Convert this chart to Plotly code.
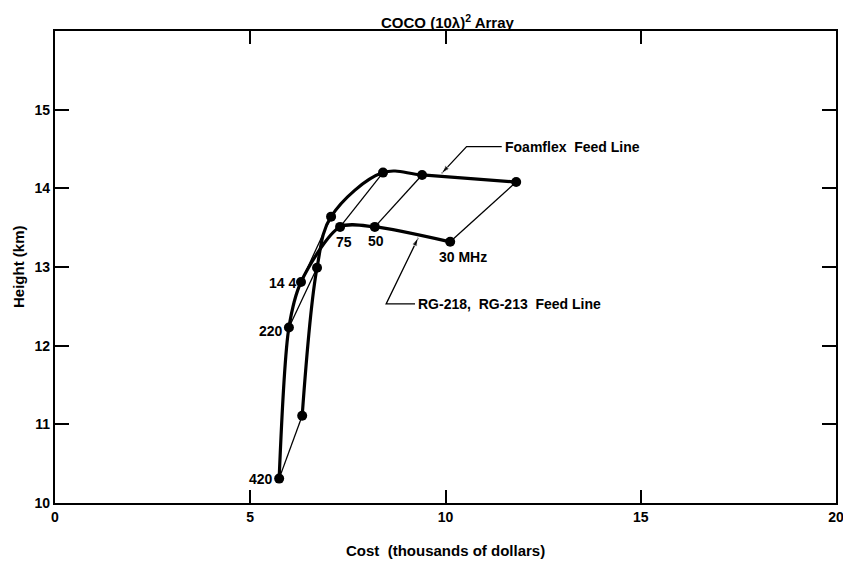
import plotly.graph_objects as go

# ---- data ----
freq_labels = ["420", "220", "144", "75", "50", "30"]
rg_cost = [5.74, 5.99, 6.30, 7.30, 8.19, 10.12]
rg_height = [10.31, 12.23, 12.81, 13.51, 13.51, 13.32]
ff_cost = [6.33, 6.71, 7.07, 8.40, 9.40, 11.81]
ff_height = [11.11, 12.99, 13.64, 14.20, 14.17, 14.08]
x_ticks = [0, 5, 10, 15, 20]
y_ticks = [10, 11, 12, 13, 14, 15]

FONT = "Liberation Sans"
fig = go.Figure()

# thin lines connecting same-frequency points
for i in range(len(freq_labels)):
    fig.add_trace(go.Scatter(x=[rg_cost[i], ff_cost[i]], y=[rg_height[i], ff_height[i]],
                             mode="lines", line=dict(color="black", width=1.3),
                             showlegend=False, hoverinfo="skip"))

# thick curves
fig.add_trace(go.Scatter(x=rg_cost, y=rg_height, mode="lines+markers",
                         line=dict(color="black", width=3.2, shape="spline", smoothing=0.8),
                         marker=dict(color="black", size=10), name="RG-218, RG-213 Feed Line",
                         showlegend=False))
fig.add_trace(go.Scatter(x=ff_cost, y=ff_height, mode="lines+markers",
                         line=dict(color="black", width=3.2, shape="spline", smoothing=1.0),
                         marker=dict(color="black", size=10), name="Foamflex Feed Line",
                         showlegend=False))

lbl_font = dict(family=FONT, size=14, color="black", weight="bold")

# frequency labels
fig.add_annotation(x=rg_cost[0], y=rg_height[0], text=freq_labels[0], showarrow=False,
                   xanchor="right", xshift=-4, font=lbl_font)
fig.add_annotation(x=rg_cost[1], y=rg_height[1], text=freq_labels[1], showarrow=False,
                   xanchor="right", xshift=-4, yshift=-3, font=lbl_font)
fig.add_annotation(x=rg_cost[2], y=rg_height[2], text="14 4", showarrow=False,
                   xanchor="right", xshift=-3, yshift=-1, font=lbl_font)
fig.add_annotation(x=rg_cost[3], y=rg_height[3], text=freq_labels[3], showarrow=False,
                   xshift=4, yshift=-15, font=lbl_font)
fig.add_annotation(x=rg_cost[4], y=rg_height[4], text=freq_labels[4], showarrow=False,
                   xshift=1, yshift=-14, font=lbl_font)
fig.add_annotation(x=rg_cost[5], y=rg_height[5], text=freq_labels[5] + " MHz", showarrow=False,
                   xshift=13, yshift=-15, font=lbl_font)

# leader lines (with arrowheads) and series labels
ff_tip, ff_bend, ff_txt = (9.90, 14.19), (10.54, 14.53), (11.44, 14.53)
rg_tip, rg_bend, rg_txt = (9.30, 13.37), (8.48, 12.53), (9.22, 12.53)
for tip, bend, txt, label in [(ff_tip, ff_bend, ff_txt, "Foamflex  Feed Line"),
                              (rg_tip, rg_bend, rg_txt, "RG-218,  RG-213  Feed Line")]:
    fig.add_trace(go.Scatter(x=[txt[0], bend[0], tip[0]], y=[txt[1], bend[1], tip[1]],
                             mode="lines+markers", line=dict(color="black", width=1.3),
                             marker=dict(symbol="arrow", size=[0, 0, 9], angleref="previous",
                                         color="black"),
                             showlegend=False, hoverinfo="skip"))
    fig.add_annotation(x=txt[0], y=txt[1], text=label, showarrow=False, xanchor="left",
                       xshift=1, font=lbl_font)

# title and axis titles
big_font = dict(family=FONT, size=15, color="black", weight="bold")
fig.add_annotation(x=0.5, y=1, xref="paper", yref="paper", yshift=10, xshift=2,
                   text="COCO (10λ)<sup>2</sup> Array", showarrow=False, yanchor="middle",
                   font=big_font)
fig.add_annotation(x=0.5, y=0, xref="paper", yref="paper", yshift=-47,
                   text="Cost  (thousands of dollars)", showarrow=False, yanchor="middle",
                   font=big_font)
fig.add_annotation(x=0, y=0.5, xref="paper", yref="paper", xshift=-37, text="Height (km)",
                   textangle=-90, showarrow=False, xanchor="center", font=big_font)

axis_common = dict(showgrid=False, zeroline=False, showline=True, linecolor="black", linewidth=2.2,
                   mirror="ticks", ticks="inside", tickcolor="black", tickwidth=2, automargin=False,
                   ticklabeloverflow="allow",
                   tickfont=dict(family="Liberation Sans Narrow, " + FONT, size=14, color="black",
                                 weight="bold"))
fig.update_xaxes(range=[0, 20], tickvals=x_ticks, ticklen=13, **axis_common)
fig.update_yaxes(range=[10, 16], tickvals=y_ticks, ticklen=14, **axis_common)

fig.update_layout(
    width=843, height=574,
    margin=dict(l=55, r=7, t=31, b=71, autoexpand=False),
    paper_bgcolor="white", plot_bgcolor="white",
)
fig.write_html("out.html", config={"displayModeBar": False},
               post_script="document.body.style.margin='0';document.body.style.overflow='hidden';")
